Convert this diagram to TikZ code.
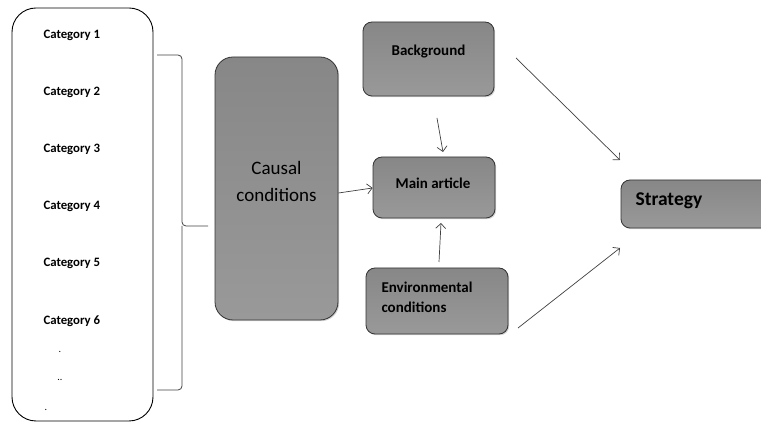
\documentclass[tikz,border=0pt]{standalone}
\usepackage{fontspec}
\setmainfont{Carlito}
\usetikzlibrary{shadows, arrows.meta}

\tikzset{
    greybox/.style={draw=black!80, line width=0.8pt, rounded corners=9pt, top color=black!47, bottom color=black!40,
        drop shadow={opacity=0.35, shadow xshift=1.2pt, shadow yshift=-1.2pt}},
    cat/.style={font=\fontsize{12.8}{14}\selectfont\bfseries, anchor=west},
    arr/.style={-{Straight Barb[length=5pt, width=10pt, line width=0.7pt]}, line width=0.7pt, color=black!75}
}

\begin{document}
\begin{tikzpicture}[x=1pt, y=1pt]
    \useasboundingbox (0,0) rectangle (761,423);
    % categories
    \node (catbox) at (82.5,208.5) [draw, line width=0.9pt, rounded corners=24pt, minimum width=141pt, minimum height=413pt] {};
    \foreach \i/\y in {1/388, 2/331, 3/274, 4/217, 5/160, 6/102} {
        \node (cat\i) at (40,\y) [cat] {Category \i};
    }
    \node (dot1) at (60,71) {.};
    \node (dot2) at (60,43) {..};
    \node (dot3) at (46,13) {.};
    % brace
    \coordinate (bt) at (157,368);
    \coordinate (bb) at (157,33);
    \coordinate (btip) at (208,197);
    \draw [line width=0.8pt, color=black!75, rounded corners=4pt] (bt) -- (182,368) -- (182,197) -- (btip);
    \draw [line width=0.8pt, color=black!75, rounded corners=4pt] (bb) -- (182,33) -- (182,197);
    % boxes
    \node (causal) at (276.5,234.5) [greybox, rounded corners=18pt, minimum width=123pt, minimum height=263pt] {};
    \node at (276.5,242) [align=center, font=\fontsize{19}{27}\selectfont] {Causal\\conditions};
    \node (back) at (428.5,364) [greybox, minimum width=131pt, minimum height=74pt] {};
    \node at (428.5,371) [font=\fontsize{15}{18}\selectfont\bfseries] {Background};
    \node (main) at (434,235.5) [greybox, minimum width=122pt, minimum height=61pt] {};
    \node at (433,240) [font=\fontsize{15}{18}\selectfont\bfseries] {Main article};
    \node (env) at (437,122) [greybox, minimum width=142pt, minimum height=66pt] {};
    \node at (378,126) [anchor=west, align=left, font=\fontsize{15}{20}\selectfont\bfseries] {Environmental\\conditions};
    \node (strat) at (698,219) [greybox, minimum width=154pt, minimum height=48pt] {};
    \node at (632,222) [anchor=west, font=\fontsize{19.5}{22}\selectfont\bfseries] {Strategy};
    % arrows
    \coordinate (s1) at (437,305);
    \coordinate (e1) at (443,271);
    \coordinate (s2) at (439,161);
    \coordinate (e2) at (441,200);
    \coordinate (s3) at (516,365);
    \coordinate (e3) at (620,263);
    \coordinate (s4) at (518,95);
    \coordinate (e4) at (620,175);
    \draw [arr] (causal.east |- 0,230) -- (main.west |- 0,235);
    \draw [arr] (s1) -- (e1);
    \draw [arr] (s2) -- (e2);
    \draw [arr] (s3) -- (e3);
    \draw [arr] (s4) -- (e4);
\end{tikzpicture}
\end{document}
